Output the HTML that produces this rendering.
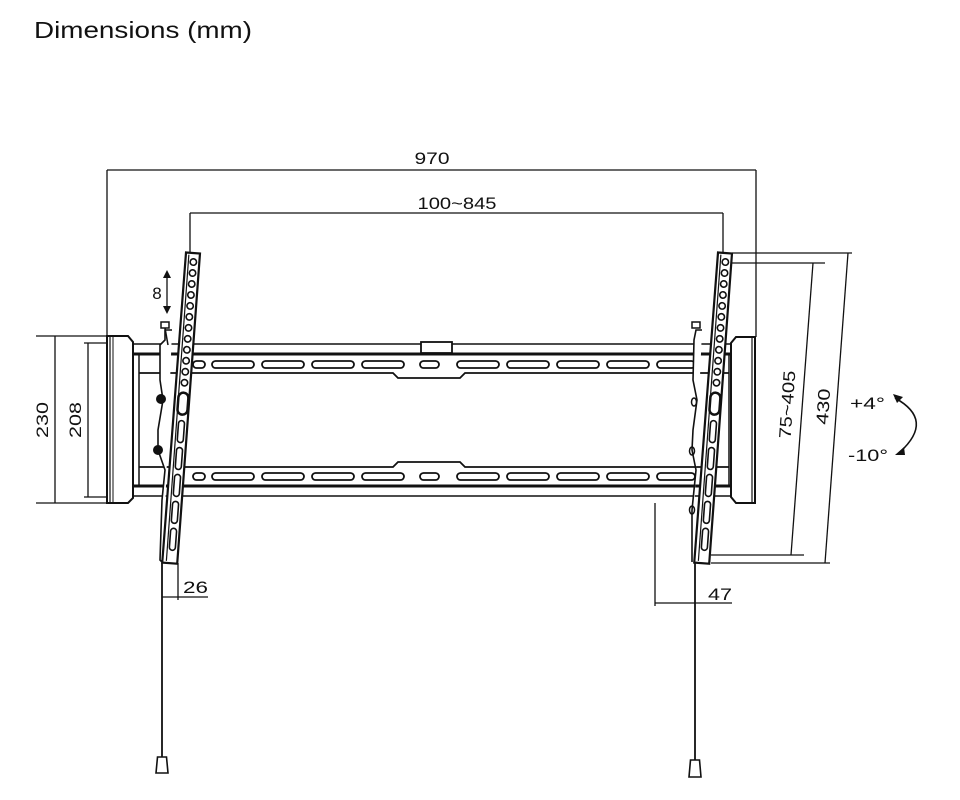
<!DOCTYPE html>
<html><head><meta charset="utf-8"><style>
body{margin:0;background:#fff}
svg{display:block}
text{font-family:"Liberation Sans",sans-serif;fill:#111}
</style></head><body>
<svg width="960" height="800" viewBox="0 0 960 800" xmlns="http://www.w3.org/2000/svg">
<text x="34" y="38" font-size="23" textLength="218" lengthAdjust="spacingAndGlyphs">Dimensions (mm)</text>
<defs>
 <g id="strip" fill="none" stroke="#111">
  <path d="M-7,0 L7,0 L7,311 L-8,311 Z" stroke-width="2.2" fill="#fff"/>
  <line x1="-4" y1="2" x2="-4" y2="309" stroke-width="1.2"/>
  <g stroke-width="1.6">
   <circle cx="1" cy="9" r="3.2"/><circle cx="1" cy="20" r="3.2"/><circle cx="1" cy="31" r="3.2"/>
   <circle cx="1" cy="42" r="3.2"/><circle cx="1" cy="53" r="3.2"/><circle cx="1" cy="64" r="3.2"/>
   <circle cx="1" cy="75" r="3.2"/><circle cx="1" cy="86" r="3.2"/><circle cx="1" cy="97" r="3.2"/>
   <circle cx="1" cy="108" r="3.2"/><circle cx="1" cy="119" r="3.2"/><circle cx="1" cy="130" r="3.2"/>
   <rect x="-4" y="140" width="10" height="22" rx="5" stroke-width="2.5"/>
   <rect x="-2" y="168" width="6" height="22" rx="3"/>
   <rect x="-2" y="195" width="6" height="22" rx="3"/>
   <rect x="-2" y="222" width="6" height="22" rx="3"/>
   <rect x="-2" y="249" width="6" height="22" rx="3"/>
   <rect x="-2" y="276" width="6" height="22" rx="3"/>
  </g>
 </g>
 <g id="slots" fill="none" stroke="#111" stroke-width="1.8">
  <rect x="212" y="0" width="42" height="7" rx="3.5"/><rect x="262" y="0" width="42" height="7" rx="3.5"/>
  <rect x="312" y="0" width="42" height="7" rx="3.5"/><rect x="362" y="0" width="42" height="7" rx="3.5"/>
  <rect x="420" y="0" width="19" height="7" rx="3.5"/>
  <rect x="457" y="0" width="42" height="7" rx="3.5"/><rect x="507" y="0" width="42" height="7" rx="3.5"/>
  <rect x="557" y="0" width="42" height="7" rx="3.5"/><rect x="607" y="0" width="42" height="7" rx="3.5"/>
  <rect x="657" y="0" width="38" height="7" rx="3.5"/>
  <rect x="193" y="0" width="12" height="7" rx="3.5"/>
 </g>
</defs>

<g fill="none" stroke="#111">
 <g stroke-width="1.3">
  <line x1="107" y1="170" x2="756" y2="170"/>
  <line x1="107" y1="170" x2="107" y2="336"/>
  <line x1="756" y1="170" x2="756" y2="337"/>
  <line x1="190" y1="213" x2="723" y2="213"/>
  <line x1="190" y1="213" x2="190" y2="252"/>
  <line x1="723" y1="213" x2="723" y2="252"/>
  <line x1="36" y1="336" x2="107" y2="336"/>
  <line x1="36" y1="503" x2="107" y2="503"/>
  <line x1="55" y1="336" x2="55" y2="503"/>
  <line x1="84" y1="343" x2="107" y2="343"/>
  <line x1="84" y1="497" x2="107" y2="497"/>
  <line x1="88" y1="343" x2="88" y2="497"/>
  <line x1="732" y1="253" x2="852" y2="253"/>
  <line x1="711" y1="563" x2="830" y2="563"/>
  <line x1="848" y1="253" x2="825" y2="563"/>
  <line x1="725" y1="263" x2="825" y2="263"/>
  <line x1="711" y1="555" x2="804" y2="555"/>
  <line x1="813" y1="263" x2="791" y2="555"/>
  <line x1="655" y1="503" x2="655" y2="606"/>
  <line x1="655" y1="603" x2="732" y2="603"/>
  <line x1="178" y1="563" x2="178" y2="600"/>
  <line x1="162" y1="597" x2="208" y2="597"/>
  <line x1="167" y1="276" x2="167" y2="308"/>
 </g>
 <path d="M163,278 L167,270 L171,278 Z M163,306 L167,314 L171,306 Z" fill="#111" stroke="none"/>

 <path d="M107,336 L128,336 L133,342 L133,498 L128,503 L107,503 Z" stroke-width="2" fill="#fff"/>
 <line x1="110" y1="337" x2="110" y2="502" stroke-width="1.2"/>
 <line x1="113" y1="337" x2="113" y2="502" stroke-width="1"/>
 <line x1="139" y1="354" x2="139" y2="486" stroke-width="1.5"/>
 <path d="M755,337 L736,337 L731,343 L731,497 L736,503 L755,503 Z" stroke-width="2" fill="#fff"/>
 <line x1="752" y1="338" x2="752" y2="502" stroke-width="1.2"/>
 <line x1="729" y1="354" x2="729" y2="486" stroke-width="1.5"/>

 <line x1="133" y1="344" x2="731" y2="344" stroke-width="1.6"/>
 <line x1="133" y1="354" x2="731" y2="354" stroke-width="3"/>
 <path d="M139,373 L393,373 L398,378 L460,378 L465,373 L729,373" stroke-width="1.8"/>
 <path d="M139,467 L393,467 L398,462 L460,462 L465,467 L729,467" stroke-width="1.8"/>
 <line x1="133" y1="486" x2="731" y2="486" stroke-width="3"/>
 <line x1="133" y1="496" x2="731" y2="496" stroke-width="1.6"/>
 <use href="#slots" y="361"/>
 <use href="#slots" y="473"/>
 <rect x="421" y="342" width="31" height="11" stroke-width="1.8" fill="#fff"/>

 <path d="M172,330 L165,330 L165,340 L160,345 L160,380 L163,400 L158,430 L158,450 L165,470 L162,500 L160,560 L163,563" stroke-width="1.6" fill="#fff"/>
 <rect x="161" y="322" width="8" height="6" stroke-width="1.5"/>
 <line x1="165" y1="328" x2="168" y2="345" stroke-width="1.5"/>
 <circle cx="161" cy="399" r="4.5" fill="#111"/>
 <circle cx="158" cy="450" r="4.5" fill="#111"/>
 <path d="M702,330 L696,330 L694,340 L693,380 L697,400 L693,430 L692,450 L696,470 L692,510 L692,562" stroke-width="1.6" fill="#fff"/>
 <rect x="692" y="322" width="8" height="6" stroke-width="1.5"/>
 <ellipse cx="694" cy="402" rx="2.5" ry="4" stroke-width="1.5"/>
 <ellipse cx="692" cy="451" rx="2.5" ry="4" stroke-width="1.5"/>
 <ellipse cx="692" cy="510" rx="2.5" ry="4" stroke-width="1.5"/>

 <use href="#strip" transform="translate(193,253) rotate(4.2)"/>
 <use href="#strip" transform="translate(725,253) rotate(4.2)"/>

 <line x1="162" y1="563" x2="162" y2="757" stroke-width="1.8"/>
 <path d="M157.5,757 L166.5,757 L168,773 L156,773 Z" stroke-width="1.6"/>
 <line x1="695" y1="562" x2="695" y2="760" stroke-width="1.8"/>
 <path d="M690.5,760 L699.5,760 L701,777 L689,777 Z" stroke-width="1.6"/>

 <path d="M895,398 Q935,420 900,452" stroke-width="1.6"/>
 <path d="M893,394 L903,397 L897,403 Z M895,455 L904,447 L905,455 Z" fill="#111" stroke="none"/>
</g>

<g font-size="17">
 <text x="432" y="164" text-anchor="middle" textLength="35" lengthAdjust="spacingAndGlyphs">970</text>
 <text x="457" y="209" text-anchor="middle" textLength="79" lengthAdjust="spacingAndGlyphs">100~845</text>
 <text x="183" y="593" textLength="25" lengthAdjust="spacingAndGlyphs">26</text>
 <text x="708" y="600" textLength="24" lengthAdjust="spacingAndGlyphs">47</text>
 <text x="157" y="299" text-anchor="middle">8</text>
 <text x="850" y="409" textLength="35" lengthAdjust="spacingAndGlyphs">+4°</text>
 <text x="848" y="461" textLength="40" lengthAdjust="spacingAndGlyphs">-10°</text>
 <text transform="translate(48,420) rotate(-90)" text-anchor="middle" textLength="36" lengthAdjust="spacingAndGlyphs">230</text>
 <text transform="translate(81,420) rotate(-90)" text-anchor="middle" textLength="36" lengthAdjust="spacingAndGlyphs">208</text>
 <text transform="translate(793,405) rotate(-86)" text-anchor="middle" textLength="68" lengthAdjust="spacingAndGlyphs">75~405</text>
 <text transform="translate(829,407) rotate(-86)" text-anchor="middle" textLength="36" lengthAdjust="spacingAndGlyphs">430</text>
</g>
</svg>
</body></html>
